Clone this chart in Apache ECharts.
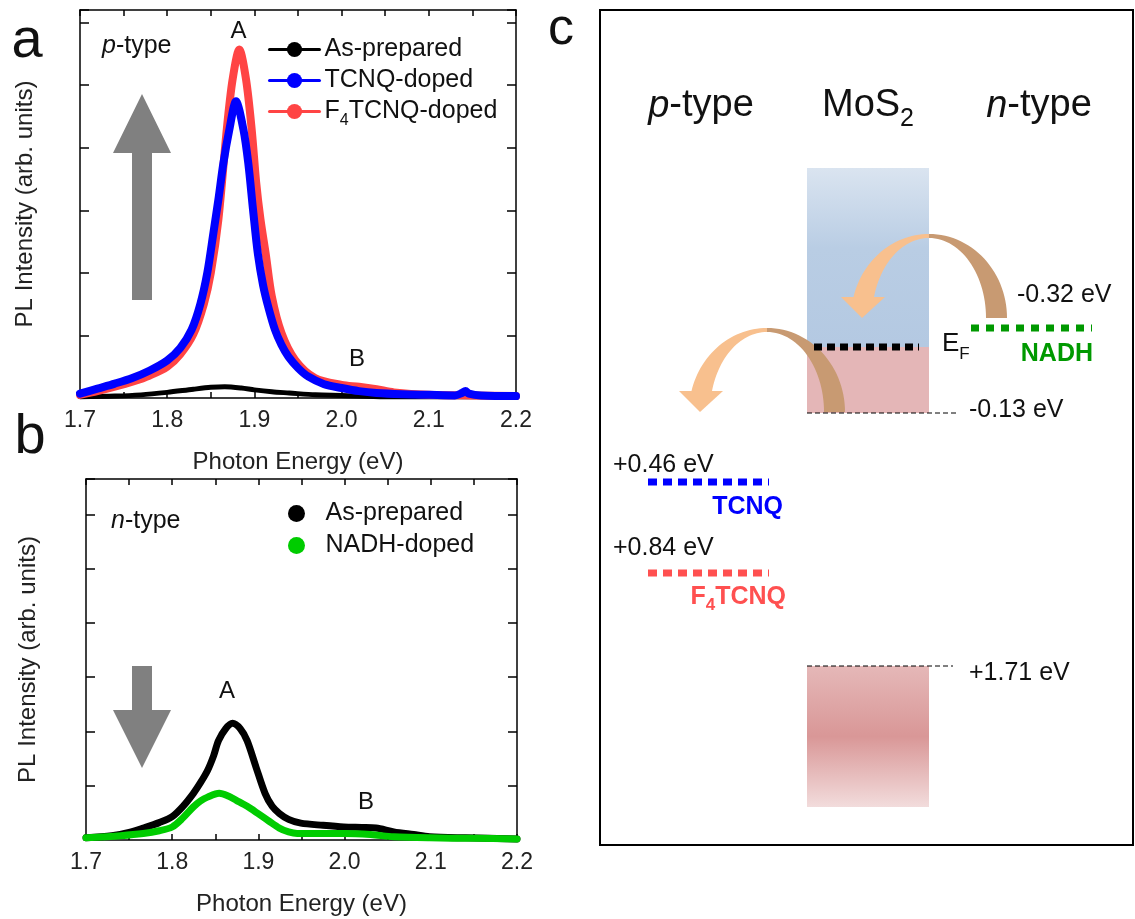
<!DOCTYPE html>
<html>
<head>
<meta charset="utf-8">
<title>MoS2 PL doping</title>
<script src="https://cdn.jsdelivr.net/npm/echarts/dist/echarts.min.js"></script>
<style>
  html, body { margin: 0; padding: 0; background: #fff; }
  #main { width: 1135px; height: 919px; }
</style>
</head>
<body>
<div id="main"></div>
<script>
// 数据：光子能量 (eV) 与 PL 强度 (任意单位)
var tcnqA = [
  [1.700, 0.07], [1.720, 0.15], [1.740, 0.23], [1.760, 0.32], [1.780, 0.44], [1.800, 0.60],
  [1.815, 0.80], [1.828, 1.09], [1.838, 1.50], [1.846, 2.00], [1.853, 2.64], [1.8587, 3.17],
  [1.8644, 3.75], [1.8713, 4.29], [1.8789, 4.74], [1.8874, 4.29], [1.893, 3.75], [1.8985, 3.00],
  [1.904, 2.30], [1.910, 1.80], [1.916, 1.45], [1.9236, 1.09], [1.931, 0.85], [1.939, 0.66],
  [1.950, 0.48], [1.962, 0.34], [1.980, 0.22], [2.000, 0.16], [2.020, 0.11], [2.040, 0.08],
  [2.070, 0.06], [2.100, 0.05], [2.130, 0.04], [2.138, 0.08], [2.142, 0.11], [2.146, 0.07],
  [2.160, 0.04], [2.200, 0.03]
];
var f4tcnqA = [
  [1.700, 0.05], [1.720, 0.11], [1.740, 0.18], [1.760, 0.26], [1.780, 0.36], [1.800, 0.50],
  [1.815, 0.70], [1.830, 1.02], [1.842, 1.50], [1.850, 2.00], [1.8587, 2.85], [1.8683, 4.29],
  [1.875, 5.09], [1.8827, 5.57], [1.8904, 5.09], [1.8969, 4.29], [1.902, 3.45], [1.907, 2.85],
  [1.913, 2.30], [1.920, 1.62], [1.931, 1.04], [1.9466, 0.61], [1.9695, 0.32], [2.000, 0.21],
  [2.020, 0.18], [2.040, 0.14], [2.060, 0.09], [2.100, 0.05], [2.150, 0.04], [2.200, 0.03]
];
var asPrepA = [
  [1.700, 0.02], [1.740, 0.03], [1.770, 0.05], [1.800, 0.09], [1.830, 0.14], [1.850, 0.17],
  [1.866, 0.18], [1.885, 0.16], [1.900, 0.13], [1.920, 0.10], [1.940, 0.08], [1.970, 0.05],
  [2.000, 0.04], [2.050, 0.02], [2.100, 0.02], [2.200, 0.02]
];
var asPrepB = [
  [1.700, 0.04], [1.730, 0.08], [1.750, 0.14], [1.7665, 0.22], [1.785, 0.32], [1.800, 0.43],
  [1.8125, 0.62], [1.8246, 0.86], [1.833, 1.06], [1.841, 1.28], [1.848, 1.55], [1.8537, 1.83],
  [1.862, 2.05], [1.870, 2.15], [1.879, 2.05], [1.8869, 1.83], [1.8973, 1.34], [1.9077, 0.86],
  [1.916, 0.62], [1.9243, 0.49], [1.935, 0.38], [1.9492, 0.31], [1.975, 0.27], [1.999, 0.24],
  [2.020, 0.23], [2.0364, 0.22], [2.057, 0.15], [2.080, 0.10], [2.0987, 0.06], [2.140, 0.04],
  [2.200, 0.02]
];
var nadhB = [
  [1.700, 0.04], [1.740, 0.08], [1.7665, 0.12], [1.785, 0.17], [1.800, 0.24], [1.812, 0.40],
  [1.8246, 0.61], [1.833, 0.72], [1.841, 0.79], [1.8545, 0.86], [1.865, 0.81], [1.8744, 0.73],
  [1.887, 0.62], [1.8993, 0.49], [1.912, 0.35], [1.9243, 0.22], [1.935, 0.15], [1.945, 0.12],
  [1.970, 0.12], [2.000, 0.12], [2.030, 0.10], [2.057, 0.06], [2.0987, 0.04], [2.150, 0.03],
  [2.200, 0.02]
];
var legendA = ['As-prepared', 'TCNQ-doped', 'F4TCNQ-doped'];
var legendB = ['As-prepared', 'NADH-doped'];
var energyRange = [1.7, 2.2];
var energyStep = 0.1;

var FONT = 'Liberation Sans, Arial, Helvetica, sans-serif';
var frame = { color: '#000', width: 1.5 };

// 坐标轴：上下左右四边都画刻度，刻度朝内
function xAxes(grid, margin, gap) {
  var base = {
    gridIndex: grid, type: 'value', min: energyRange[0], max: energyRange[1], interval: energyStep,
    axisLine: { show: true, onZero: false, lineStyle: frame },
    axisTick: { show: true, inside: true, length: 6, lineStyle: frame },
    minorTick: { show: true, splitNumber: 2, length: 6, lineStyle: frame },
    splitLine: { show: false }
  };
  var bottom = Object.assign({}, base, {
    position: 'bottom',
    axisLabel: { margin: margin, fontSize: 23, color: '#222', fontFamily: FONT,
      formatter: function(v) { return v.toFixed(1); } },
    name: 'Photon Energy (eV)', nameLocation: 'middle', nameGap: gap,
    nameTextStyle: { fontSize: 24, color: '#222', fontFamily: FONT }
  });
  var top = Object.assign({}, base, { position: 'top', axisLabel: { show: false } });
  return [bottom, top];
}
function yAxes(grid, yMax, gap) {
  var base = {
    gridIndex: grid, type: 'value', min: 0, max: yMax, interval: 1,
    axisLine: { show: true, onZero: false, lineStyle: frame },
    axisTick: { show: true, inside: true, length: 9, lineStyle: frame },
    axisLabel: { show: false },
    splitLine: { show: false }
  };
  var left = Object.assign({}, base, {
    position: 'left',
    name: 'PL Intensity (arb. units)', nameLocation: 'middle', nameGap: gap,
    nameTextStyle: { fontSize: 24, color: '#222', fontFamily: FONT }
  });
  var right = Object.assign({}, base, { position: 'right' });
  return [left, right];
}
function spectrum(name, data, color, width, grid) {
  return {
    name: name, type: 'line', xAxisIndex: grid * 2, yAxisIndex: grid * 2,
    data: data, symbol: 'none', smooth: 0.3,
    lineStyle: { color: color, width: width, cap: 'round', join: 'round' },
    itemStyle: { color: color }
  };
}

// graphic 小工具
function txt(x, y, text, size, opt) {
  opt = opt || {};
  return {
    type: 'text', x: x, y: y, silent: true,
    style: {
      text: text, fontSize: size, fontFamily: FONT, fontWeight: opt.bold ? 'bold' : 'normal',
      fill: opt.color || '#111',
      align: opt.align || 'left', textAlign: opt.align || 'left',
      verticalAlign: 'middle', textVerticalAlign: 'middle',
      rich: opt.rich
    }
  };
}
function hline(x1, x2, y, color, width, dash) {
  return { type: 'line', silent: true, shape: { x1: x1, y1: y, x2: x2, y2: y },
    style: { stroke: color, lineWidth: width, lineDash: dash } };
}
function vgrad(stops) {
  return new echarts.graphic.LinearGradient(0, 0, 0, 1, stops.map(function(s) {
    return { offset: s[0], color: s[1] };
  }));
}
// 弯曲箭头（电荷转移）
function bendArrow(cx, cy) {
  var oRx = 78, oRy = 84, iRx = 57, iRy = 80, n = 30;
  var tEnd = 166 / 180 * Math.PI;
  var right = [], left = [], i, t;
  for (i = 0; i <= n; i++) { t = Math.PI / 2 * i / n; right.push([cx + oRx * Math.cos(t), cy - oRy * Math.sin(t)]); }
  for (i = n; i >= 0; i--) { t = Math.PI / 2 * i / n; right.push([cx + iRx * Math.cos(t), cy - iRy * Math.sin(t)]); }
  for (i = 0; i <= n; i++) { t = Math.PI / 2 + (tEnd - Math.PI / 2) * i / n; left.push([cx + oRx * Math.cos(t), cy - oRy * Math.sin(t)]); }
  for (i = n; i >= 0; i--) { t = Math.PI / 2 + (tEnd - Math.PI / 2) * i / n; left.push([cx + iRx * Math.cos(t), cy - iRy * Math.sin(t)]); }
  return [
    { type: 'polygon', silent: true, shape: { points: right }, style: { fill: '#c89a72' } },
    { type: 'polygon', silent: true, shape: { points: left }, style: { fill: '#f8c08e' } },
    { type: 'polygon', silent: true, shape: { points: [[cx - 88, cy - 21], [cx - 44, cy - 21], [cx - 67, cy]] },
      style: { fill: '#f8c08e' } }
  ];
}

var subRich = {
  s: { fontSize: 16, fontFamily: FONT, color: '#111', padding: [18, 0, 0, 0] }
};
var italicRich = function(size) {
  return { i: { fontStyle: 'italic', fontSize: size, fontFamily: FONT } };
};

var graphics = [
  // 面板字母
  txt(27, 42, 'a', 56, { align: 'center' }),
  txt(30, 438, 'b', 56, { align: 'center' }),
  txt(561, 30, 'c', 52, { align: 'center' }),
  // 面板 a 注释
  txt(102, 46, '{i|p}-type', 25, { rich: italicRich(25) }),
  txt(238.5, 31, 'A', 24, { align: 'center' }),
  txt(357, 359, 'B', 24, { align: 'center' }),
  { type: 'polygon', silent: true, style: { fill: '#808080' },
    shape: { points: [[132, 300], [152, 300], [152, 153], [171, 153], [142, 94], [113, 153], [132, 153]] } },
  // 面板 b 注释
  txt(111, 521, '{i|n}-type', 25, { rich: italicRich(25) }),
  txt(227, 691, 'A', 24, { align: 'center' }),
  txt(366, 802, 'B', 24, { align: 'center' }),
  { type: 'polygon', silent: true, style: { fill: '#808080' },
    shape: { points: [[132, 666], [152, 666], [152, 710], [171, 710], [142, 768], [113, 710], [132, 710]] } },
  // 面板 c 能带图
  { type: 'rect', silent: true, shape: { x: 600, y: 10, width: 533, height: 835 },
    style: { fill: 'none', stroke: '#000', lineWidth: 2 } },
  txt(701, 106, '{i|p}-type', 38, { align: 'center', rich: italicRich(38) }),
  txt(868, 106, 'MoS{s|2}', 38, { align: 'center', rich: { s: { fontSize: 25, fontFamily: FONT, padding: [26, 0, 0, 0] } } }),
  txt(1039, 106, '{i|n}-type', 38, { align: 'center', rich: italicRich(38) }),
  { type: 'rect', silent: true, shape: { x: 807, y: 168, width: 122, height: 179 },
    style: { fill: vgrad([[0, '#dae4f0'], [0.45, '#b9cde4'], [1, '#b4c9e2']]) } },
  { type: 'rect', silent: true, shape: { x: 807, y: 347, width: 122, height: 66 },
    style: { fill: '#e4b6b7' } },
  { type: 'rect', silent: true, shape: { x: 807, y: 666, width: 122, height: 141 },
    style: { fill: vgrad([[0, '#e5b8b8'], [0.5, '#d99797'], [1, '#f2dcdc']]) } }
];
graphics = graphics.concat(bendArrow(929, 318), bendArrow(767, 412));
graphics = graphics.concat([
  hline(814, 919, 347, '#000', 7, [8, 5]),
  hline(971, 1092, 328, '#009900', 7, [8, 7]),
  hline(648, 769, 482, '#0000ff', 7, [9, 6]),
  hline(648, 769, 573, '#ff5050', 7, [9, 6]),
  hline(807, 957, 413, '#000', 1, [5, 3]),
  hline(807, 953, 666, '#000', 1, [5, 3]),
  txt(942, 344, 'E{s|F}', 26, { rich: { s: { fontSize: 17, fontFamily: FONT, padding: [21, 0, 0, 0] } } }),
  txt(1017, 295, '-0.32 eV', 25),
  txt(1093, 354, 'NADH', 25, { bold: true, color: '#009900', align: 'right' }),
  txt(969, 410, '-0.13 eV', 25),
  txt(613, 465, '+0.46 eV', 25),
  txt(783, 507, 'TCNQ', 25, { bold: true, color: '#0000ff', align: 'right' }),
  txt(613, 548, '+0.84 eV', 25),
  txt(786, 597, 'F{s|4}TCNQ', 25, { bold: true, color: '#ff5050', align: 'right',
    rich: { s: { fontSize: 17, fontWeight: 'bold', fontFamily: FONT, color: '#ff5050', padding: [16, 0, 0, 0] } } }),
  txt(969, 673, '+1.71 eV', 25)
]);

var myChart = echarts.init(document.getElementById('main'));
var option = {
  animation: false,
  backgroundColor: '#fff',
  grid: [
    { left: 80, top: 10, width: 436, height: 388, outerBoundsMode: 'none' },
    { left: 86, top: 479, width: 431, height: 361, outerBoundsMode: 'none' }
  ],
  xAxis: xAxes(0, 11, 52).concat(xAxes(1, 11, 52)),
  yAxis: yAxes(0, 6.2, 43).concat(yAxes(1, 6.65, 46)),
  legend: [
    {
      orient: 'vertical', left: 268, top: 37, padding: 0, itemGap: 6,
      itemWidth: 50, itemHeight: 19, selectedMode: false, data: legendA,
      lineStyle: { width: 3 },
      textStyle: { fontSize: 25, color: '#111', fontFamily: FONT, rich: subRich },
      formatter: function(name) {
        return name === 'F4TCNQ-doped' ? 'F{s|4}TCNQ-doped' : name;
      }
    },
    {
      orient: 'vertical', left: 288, top: 501, padding: 0, itemGap: 7,
      itemWidth: 48, itemHeight: 17, icon: 'circle', selectedMode: false, data: legendB,
      textStyle: { fontSize: 25, color: '#111', fontFamily: FONT }
    }
  ],
  series: [
    spectrum('As-prepared', asPrepA, '#000000', 5, 0),
    spectrum('F4TCNQ-doped', f4tcnqA, '#ff4444', 8, 0),
    spectrum('TCNQ-doped', tcnqA, '#0000ff', 8, 0),
    spectrum('As-prepared', asPrepB, '#000000', 7, 1),
    spectrum('NADH-doped', nadhB, '#00cc00', 7, 1)
  ],
  graphic: graphics
};
myChart.setOption(option);
window.addEventListener('resize', function() {
  myChart.resize();
});
</script>
</body>
</html>
